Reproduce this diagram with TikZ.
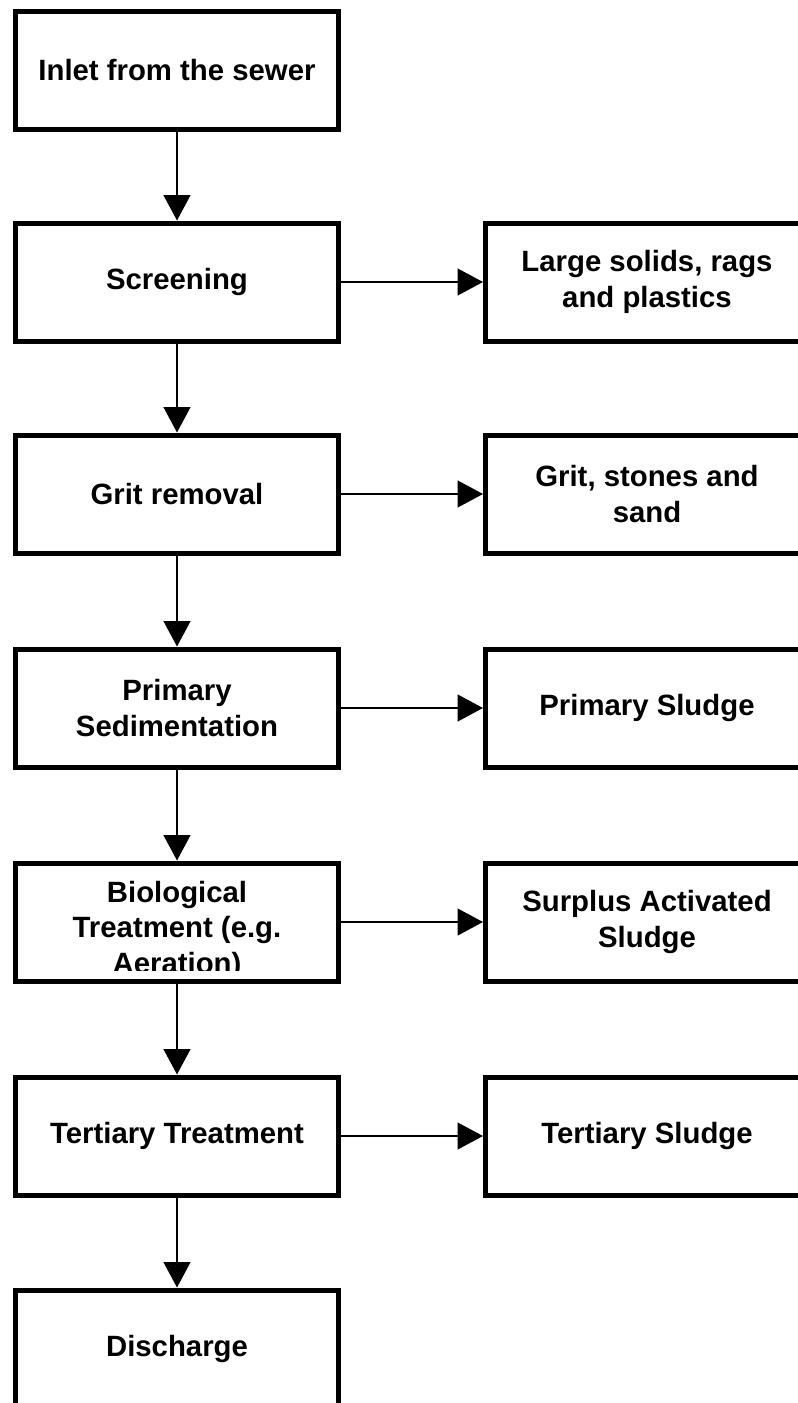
\documentclass[tikz,border=0pt]{standalone}
\usepackage{fontspec}
\setmainfont{Liberation Sans}
\usetikzlibrary{arrows.meta}
\begin{document}
\begin{tikzpicture}[x=0.75pt,y=-0.75pt,
  txt/.style={align=center,font=\fontsize{22}{26.4}\selectfont\bfseries},
  stage/.style={txt,draw,line width=3.75pt,minimum width=242.25pt,minimum height=88.5pt,inner sep=0pt},
  flow/.style={line width=1.5pt,-{Triangle[length=19pt,width=20pt]}}]
\useasboundingbox (0,0) rectangle (798,1403);
\clip (0,0) rectangle (798,1403);
\node (inlet) [stage] at (177,70) {Inlet from the sewer};
\node (screen) [stage] at (177,282) {Screening};
\node (grit) [stage] at (177,494) {Grit removal};
\node (primary) [stage] at (177,708) {Primary\\Sedimentation};
\node (bio) [stage] at (177,922) {};
\begin{scope}
\clip (16,864) rectangle (338,970);
\node (biotext) [txt,anchor=north,inner sep=0pt] at ([yshift=-15.5pt]bio.north) {Biological\\Treatment (e.g.\\Aeration)};
\end{scope}
\node (tertiary) [stage] at (177,1136) {Tertiary Treatment};
\node (discharge) [stage] at (177,1349) {Discharge};
\node (rags) [stage] at (647,282) {Large solids, rags\\and plastics};
\node (sand) [stage] at (647,494) {Grit, stones and\\sand};
\node (psludge) [stage] at (647,708) {Primary Sludge};
\node (sas) [stage] at (647,922) {Surplus Activated\\Sludge};
\node (tsludge) [stage] at (647,1136) {Tertiary Sludge};
\draw [flow] (inlet) -- (screen);
\draw [flow] (screen) -- (grit);
\draw [flow] (grit) -- (primary);
\draw [flow] (primary) -- (bio);
\draw [flow] (bio) -- (tertiary);
\draw [flow] (tertiary) -- (discharge);
\draw [flow] (screen) -- (rags);
\draw [flow] (grit) -- (sand);
\draw [flow] (primary) -- (psludge);
\draw [flow] (bio) -- (sas);
\draw [flow] (tertiary) -- (tsludge);
\end{tikzpicture}
\end{document}
